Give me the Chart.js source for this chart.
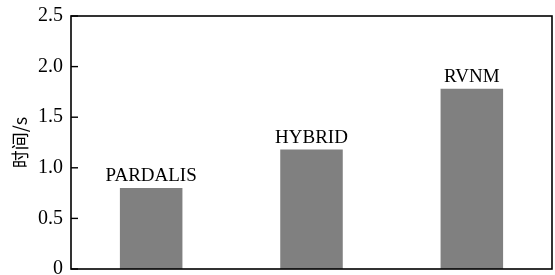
<!DOCTYPE html>
<html>
<head>
<meta charset="utf-8">
<script src="https://cdn.jsdelivr.net/npm/chart.js@4/dist/chart.umd.min.js"></script>
<style>
  html, body { margin: 0; padding: 0; background: #fff; overflow: hidden; }
  #wrap { width: 555px; height: 275px; }
</style>
</head>
<body>
<div id="wrap"><canvas id="myChart"></canvas></div>
<script>
// data
var categories = ['PARDALIS', 'HYBRID', 'RVNM'];
var times = [0.80, 1.18, 1.78];
var yTicks = [0, 0.5, 1.0, 1.5, 2.0, 2.5];
var yTitle = '时间/s';

var serif = '"Liberation Serif", "Times New Roman", serif';

// frame, inward ticks and the names above the bars
var framePlugin = {
	id: 'frame',
	afterDraw: function (chart) {
		var ctx = chart.ctx;
		var a = chart.chartArea;
		var y = chart.scales.y;
		ctx.save();
		ctx.strokeStyle = '#000';
		ctx.lineWidth = 1.6;
		ctx.strokeRect(a.left, a.top, a.right - a.left, a.bottom - a.top);
		ctx.lineWidth = 1.4;
		yTicks.forEach(function (v) {
			var py = y.getPixelForValue(v);
			ctx.beginPath();
			ctx.moveTo(a.left, py);
			ctx.lineTo(a.left + 7, py);
			ctx.stroke();
		});
		var meta = chart.getDatasetMeta(0);
		ctx.fillStyle = '#000';
		ctx.font = '19px ' + serif;
		ctx.textAlign = 'center';
		ctx.textBaseline = 'alphabetic';
		meta.data.forEach(function (bar, i) {
			ctx.fillText(categories[i], bar.x, bar.y - 7);
		});
		ctx.restore();
	}
};

var ctx = document.getElementById('myChart');
var myChart = new Chart(ctx, {
	type: 'bar',
	data: {
		labels: categories,
		datasets: [{
			data: times,
			backgroundColor: '#808080',
			borderWidth: 0,
			categoryPercentage: 1.0,
			barPercentage: 0.39
		}]
	},
	options: {
		responsive: true,
		maintainAspectRatio: false,
		animation: false,
		layout: { padding: { top: 16, right: 3, bottom: 6, left: 0 } },
		plugins: {
			legend: { display: false },
			tooltip: { enabled: false }
		},
		scales: {
			x: {
				display: false
			},
			y: {
				min: 0,
				max: 2.5,
				afterBuildTicks: function (s) {
					s.ticks = yTicks.map(function (v) { return { value: v }; });
				},
				afterFit: function (s) {
					s.width = 71;
					s.paddingTop = 0;
					s.paddingBottom = 0;
				},
				grid: { display: false, drawTicks: false },
				border: { display: false },
				ticks: {
					padding: 8,
					color: '#000',
					font: { family: serif, size: 20 },
					callback: function (v) { return v === 0 ? '0' : v.toFixed(1); }
				},
				title: {
					display: true,
					text: yTitle,
					color: '#000',
					padding: { top: 9, bottom: 0 },
					font: { family: '"Noto Sans CJK SC", ' + serif, size: 18 }
				}
			}
		}
	},
	plugins: [framePlugin]
});
</script>
</body>
</html>
